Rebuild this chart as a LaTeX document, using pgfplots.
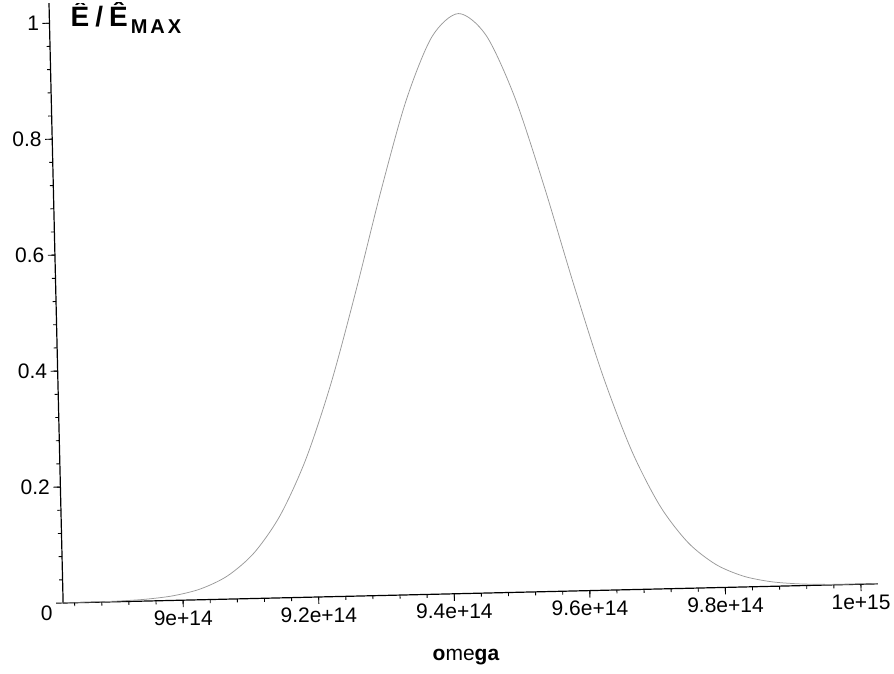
\documentclass[border=0pt]{standalone}
\usepackage{amsmath}
\usepackage{fontspec}
\setmainfont{Liberation Sans}
\usepackage{pgfplots}
\pgfplotsset{compat=1.18}

\pgfplotstableread{
x y
8.823 0.0001
8.8665 0.0004
8.9065 0.0012
8.9465 0.0033
8.9865 0.0082
9.0265 0.0189
9.0665 0.0402
9.1065 0.0789
9.1465 0.1431
9.1865 0.2397
9.2265 0.3709
9.2665 0.5300
9.3065 0.6997
9.3465 0.8533
9.3865 0.9611
9.4265 1.0000
9.4665 0.9611
9.5065 0.8533
9.5465 0.6997
9.5865 0.5300
9.6265 0.3709
9.6665 0.2397
9.7065 0.1431
9.7465 0.0789
9.7865 0.0402
9.8265 0.0189
9.8665 0.0082
9.9065 0.0033
9.9465 0.0012
9.9865 0.0004
10.025 0.0001
}\spectrum

\begin{document}
\begin{tikzpicture}
% page size = scan size, origin of the axes near (0,0)
\path[use as bounding box] (-62pt,-70pt) rectangle (832pt,603pt);
\begin{axis}[
  at={(-13pt,0pt)}, anchor=south west,
  rotate around={1.35:(0pt,0pt)},
  scale only axis, width=815pt, height=600pt,
  xmin=8.823, xmax=10.025, ymin=0, ymax=1.0345,
  axis lines=left,
  axis line style={-, black, line width=1.2pt},
  tick style={black, line width=0.9pt},
  tick align=outside,
  major tick length=7pt, minor tick length=3.5pt,
  xtick={9,9.2,9.4,9.6,9.8,10},
  xticklabels={9e+14,9.2e+14,9.4e+14,9.6e+14,9.8e+14,1e+15},
  minor xtick={8.84,8.88,...,10.0},
  ytick={0.2,0.4,0.6,0.8,1},
  yticklabels={0.2,0.4,0.6,0.8,1},
  minor ytick={0.04,0.08,...,1.0},
  extra y ticks={0},
  extra y tick labels={0},
  extra y tick style={yticklabel style={yshift=-10pt}},
  tick label style={font=\fontsize{21}{25}\selectfont},
  xlabel={\textbf{o}me\textbf{ga}},
  xlabel style={font=\fontsize{21}{25}\selectfont,
    at={(axis description cs:0.5015,-0.103)}, anchor=center},
]
\addplot[black!40, line width=0.75pt, smooth] table[x=x, y=y] {\spectrum};
% hand-written label of the scan
\node[anchor=north west, inner sep=0pt, font=\bfseries]
  at (axis description cs:0.043,0.972)
  {\fontsize{28}{30}\selectfont Ê\kern6pt/\kern6ptÊ\kern3pt%
   \raisebox{-7pt}{\fontsize{20}{20}\selectfont M\kern3ptA\kern3ptX}};
\end{axis}
\end{tikzpicture}
\end{document}
